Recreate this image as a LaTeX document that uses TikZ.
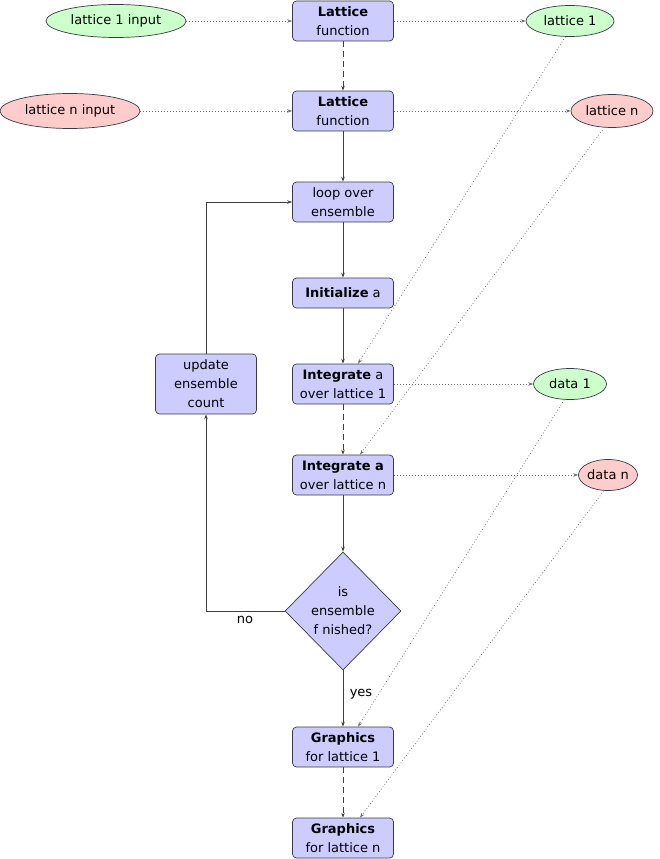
\documentclass[tikz,border=0pt]{standalone}
\usepackage{fontspec}
\setmainfont{DejaVu Sans}
\usetikzlibrary{shapes.geometric,arrows.meta,calc}
\definecolor{boxfill}{HTML}{CCCCFF}
\definecolor{boxline}{HTML}{3A3A4A}
\definecolor{greenfill}{HTML}{CCFFCC}
\definecolor{redfill}{HTML}{FFCCCC}
\definecolor{conn}{HTML}{404040}
\definecolor{dotc}{HTML}{707070}
\begin{document}
\begin{tikzpicture}[x=1pt,y=-1pt,
  every node/.style={font=\fontsize{13}{19}\selectfont, text=black},
  box/.style={draw=boxline, fill=boxfill, rounded corners=4pt, minimum width=101pt, minimum height=40pt, align=center, inner sep=0pt, line width=0.7pt},
  ell/.style={draw=boxline, ellipse, inner sep=0pt, line width=0.7pt},
  gell/.style={ell, fill=greenfill},
  rell/.style={ell, fill=redfill},
  arr/.style={draw=conn, line width=0.7pt, -{Stealth[length=5pt,width=3.5pt]}},
  dasharr/.style={arr, dash pattern=on 6pt off 4pt},
  dotarr/.style={draw=dotc, line width=0.7pt, dash pattern=on 0.8pt off 2.2pt, -{Stealth[length=5pt,width=3.5pt]}},
  lbl/.style={inner sep=0pt}
]
\useasboundingbox (0,0) rectangle (660,859);

% main column
\node[box] (lat1) at (343,21) {\textbf{Lattice}\\function};
\node[box] (latn) at (343,111) {\textbf{Lattice}\\function};
\node[box] (loop) at (343,202) {loop over\\ensemble};
\node[box, minimum height=30pt] (init) at (343,293) {\textbf{Initialize} a};
\node[box] (int1) at (343,384) {\textbf{Integrate} a\\over lattice 1};
\node[box] (intn) at (343,475) {\textbf{Integrate a}\\over lattice n};
\node[diamond, draw=boxline, fill=boxfill, line width=0.7pt, minimum width=116pt, minimum height=118pt, inner sep=0pt] (dec) at (343,611) {};
\node[align=center, inner sep=0pt] (dectext) at (343,611) {is\\ensemble\\f nished?};
\node[box] (gr1) at (343,747) {\textbf{Graphics}\\for lattice 1};
\node[box] (grn) at (343,838) {\textbf{Graphics}\\for lattice n};
\node[box, minimum height=60pt] (upd) at (206,384) {update\\ensemble\\count};

% ellipses
\node[gell, minimum width=140pt, minimum height=33pt] (l1in) at (116,21) {lattice 1 input};
\node[rell, minimum width=140pt, minimum height=35pt] (lnin) at (70,111) {lattice n input};
\node[gell, minimum width=88pt, minimum height=31pt] (l1) at (570,21) {lattice 1};
\node[rell, minimum width=82pt, minimum height=33pt] (ln) at (612,111) {lattice n};
\node[gell, minimum width=73pt, minimum height=31pt] (d1) at (570,384) {data 1};
\node[rell, minimum width=59pt, minimum height=31pt] (dn) at (608,475) {data n};

% labels
\node[lbl] (no) at (245,620) {no};
\node[lbl] (yes) at (361,694) {yes};

% flow connectors
\draw[dasharr] (lat1) -- (latn);
\draw[arr] (latn) -- (loop);
\draw[arr] (loop) -- (init);
\draw[arr] (init) -- (int1);
\draw[dasharr] (int1) -- (intn);
\draw[arr] (intn) -- (dec);
\draw[arr] (dec) -- (gr1);
\draw[dasharr] (gr1) -- (grn);
\draw[arr] (dec.west) -| (upd.south);
\draw[arr] (upd.north) |- (loop.west);

% dotted connectors
\draw[dotarr] (l1in) -- (lat1);
\draw[dotarr] (lat1) -- (l1);
\draw[dotarr] (lnin) -- (latn);
\draw[dotarr] (latn) -- (ln);
\draw[dotarr] (int1) -- (d1);
\draw[dotarr] (intn) -- (dn);
\draw[dotarr] (l1.254) -- ([xshift=15pt]int1.north);
\draw[dotarr] (ln.245) -- ([xshift=17pt]intn.north);
\draw[dotarr] (d1.250) -- ([xshift=15pt]gr1.north);
\draw[dotarr] (dn.255) -- ([xshift=17pt]grn.north);
\end{tikzpicture}
\end{document}
